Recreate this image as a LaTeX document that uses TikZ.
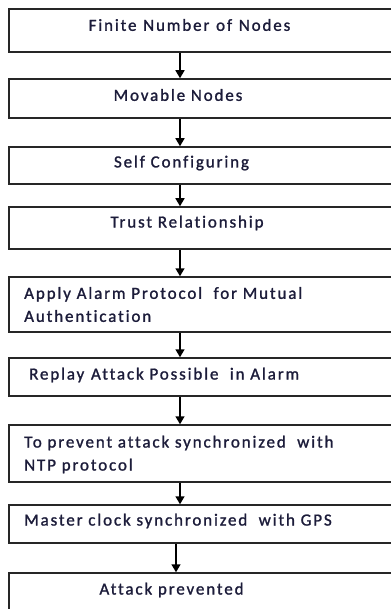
\documentclass[tikz,border=0pt]{standalone}
\usepackage{fontspec}
\setmainfont{Carlito}[LetterSpace=11, FakeBold=1.3, Ligatures={NoCommon}]
\usetikzlibrary{arrows.meta}
\definecolor{ink}{RGB}{28,28,58}
\newcommand{\gap}{\ \hspace{1pt}}
\tikzset{
  stage/.style={draw=black!85, line width=1.5pt, rectangle, minimum width=391pt, inner sep=0pt},
  label/.style={text=ink, font=\fontsize{17pt}{23pt}\selectfont, inner sep=0pt},
  flow/.style={draw=black, line width=1.5pt, -{Triangle[width=9pt,length=8pt]}}
}
\begin{document}
\begin{tikzpicture}[x=1pt,y=-1pt]
\useasboundingbox (0,0) rectangle (390,609);
% stage boxes (they run past the right and bottom edges)
\node[stage, minimum height=43pt] (b1) at (204.5,30.5) {};
\node[stage, minimum height=39pt] (b2) at (204.5,98.5) {};
\node[stage, minimum height=37pt] (b3) at (204.5,165.5) {};
\node[stage, minimum height=42pt] (b4) at (204.5,228) {};
\node[stage, minimum height=55pt] (b5) at (204.5,304.5) {};
\node[stage, minimum height=38pt] (b6) at (204.5,377) {};
\node[stage, minimum height=57pt] (b7) at (204.5,453.5) {};
\node[stage, minimum height=38pt] (b8) at (204.5,524) {};
\node[stage, minimum height=52pt] (b9) at (204.5,599) {};
% texts
\node[label] (t1) at (189.5,25) {Finite\gap Number\gap of\gap Nodes};
\node[label] (t2) at (178,95) {Movable Nodes};
\node[label] (t3) at (181.5,163) {Self Configuring};
\node[label] (t4) at (187,223) {Trust Relationship};
\node[label, anchor=west, align=left] (t5) at (24,304.5) {Apply Alarm Protocol\ \ for Mutual\\Authentication};
\node[label, anchor=west] (t6) at (29,375) {Replay\gap Attack Possible\ \ in Alarm};
\node[label, anchor=west, align=left] (t7) at (24,454.5) {To prevent attack synchronized\ \ with\\NTP protocol};
\node[label, anchor=west] (t8) at (24,521) {Master clock synchronized\ \ with GPS};
\node[label] (t9) at (171.5,590) {Attack prevented};
% connectors
\draw[flow] (b1.south -| 180,0) -- (b2.north -| 180,0);
\draw[flow] (b2.south -| 180,0) -- (b3.north -| 180,0);
\draw[flow] (b3.south -| 180,0) -- (b4.north -| 180,0);
\draw[flow] (b4.south -| 180,0) -- (b5.north -| 180,0);
\draw[flow] (b5.south -| 180,0) -- (b6.north -| 180,0);
\draw[flow] (b6.south -| 180,0) -- (b7.north -| 180,0);
\draw[flow] (b7.south -| 180,0) -- (b8.north -| 180,0);
\draw[flow] (b8.south -| 176,0) -- (b9.north -| 176,0);
\end{tikzpicture}
\end{document}
